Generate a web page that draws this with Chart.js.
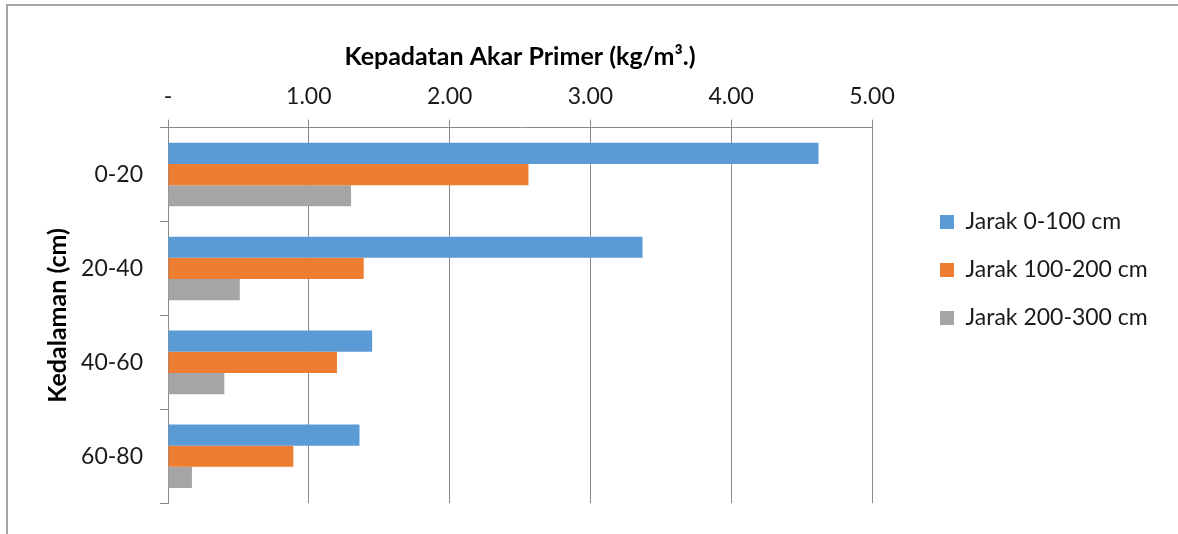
<!DOCTYPE html>
<html><head><meta charset="utf-8">
<script src="https://cdn.jsdelivr.net/npm/chart.js@4/dist/chart.umd.min.js"></script>
<style>
html,body{margin:0;padding:0;background:#fff;overflow:hidden}
#wrap{position:relative;width:1178px;height:534px}
#frame{position:absolute;left:6px;top:4px;width:1200px;height:600px;border-top:2px solid #a6a6a6;border-left:2px solid #a6a6a6;pointer-events:none}
canvas{position:absolute;left:0;top:0;width:1178px;height:534px}
</style></head><body>
<div id="wrap"><canvas id="c" width="1178" height="534"></canvas><div id="frame"></div></div>
<script>
const categories = ['0-20', '20-40', '40-60', '60-80'];
const seriesNames = ['Jarak 0-100 cm', 'Jarak 100-200 cm', 'Jarak 200-300 cm'];
const jarak0to100 = [4.62, 3.37, 1.45, 1.36];
const jarak100to200 = [2.56, 1.39, 1.20, 0.89];
const jarak200to300 = [1.30, 0.51, 0.40, 0.17];
const xTickLabels = ['-', '1.00', '2.00', '3.00', '4.00', '5.00'];
const xTitle = 'Kepadatan Akar Primer (kg/m³.)';
const yTitle = 'Kedalaman (cm)';
const colors = ['#5B9BD5', '#ED7D31', '#A5A5A5'];

const FONT = 'Lato';
const FS = 23;
const TFS = 25;
Chart.defaults.font.family = FONT;
Chart.defaults.font.size = FS;
Chart.defaults.color = '#1a1a1a';

const legendWidthPlugin = {
  id: 'legendWidth',
  beforeLayout(chart) {
    const lg = chart.legend;
    if (lg && !lg._patched) {
      const orig = lg.fit;
      lg.fit = function () { orig.call(this); this.width = 263; };
      lg._patched = true;
    }
  },
  afterLayout(chart) {
    const lg = chart.legend;
    if (lg) { lg.top -= 3; lg.bottom -= 3; }
  }
};

const seriesData = [jarak0to100, jarak100to200, jarak200to300];
new Chart(document.getElementById('c'), {
  type: 'bar',
  data: {
    labels: categories,
    datasets: seriesNames.map((n, i) => ({
      label: n,
      data: seriesData[i],
      backgroundColor: colors[i],
      borderWidth: 0,
      categoryPercentage: 0.677,
      barPercentage: 1.0
    }))
  },
  options: {
    indexAxis: 'y',
    responsive: false,
    maintainAspectRatio: false,
    animation: false,
    devicePixelRatio: 1,
    layout: { padding: { top: 40, bottom: 28, left: 43, right: 0 } },
    plugins: {
      tooltip: { enabled: false },
      legend: {
        position: 'right',
        align: 'center',
        labels: { boxWidth: 14, boxHeight: 14, padding: 25, color: '#1a1a1a', font: { size: FS } }
      }
    },
    scales: {
      x: {
        position: 'top',
        min: 0, max: 5,
        ticks: { stepSize: 1, padding: 9, color: '#1a1a1a',
          callback: (v, i) => xTickLabels[i] },
        grid: { color: '#8a8a8a', lineWidth: 1, tickLength: 8, drawOnChartArea: true },
        border: { color: '#8a8a8a', width: 1 },
        title: { display: true, text: xTitle, font: { size: TFS, weight: 'bold' }, color: '#000', padding: { top: 2, bottom: 2 } }
      },
      y: {
        position: 'left',
        ticks: { padding: 17, color: '#1a1a1a' },
        grid: { color: '#8a8a8a', drawOnChartArea: false, tickLength: 8, offset: true },
        border: { color: '#8a8a8a', width: 1 },
        title: { display: true, text: yTitle, font: { size: TFS, weight: 'bold' }, color: '#000', padding: { top: 0, bottom: 0 } },
        afterFit(s) { s.width = 125; }
      },
      yDummy: {
        type: 'linear', axis: 'y', position: 'right', display: true,
        grid: { display: false }, ticks: { display: false }, border: { display: false },
        afterFit(s) { s.width = 43; }
      }
    }
  },
  plugins: [legendWidthPlugin]
});
</script>
</body></html>
